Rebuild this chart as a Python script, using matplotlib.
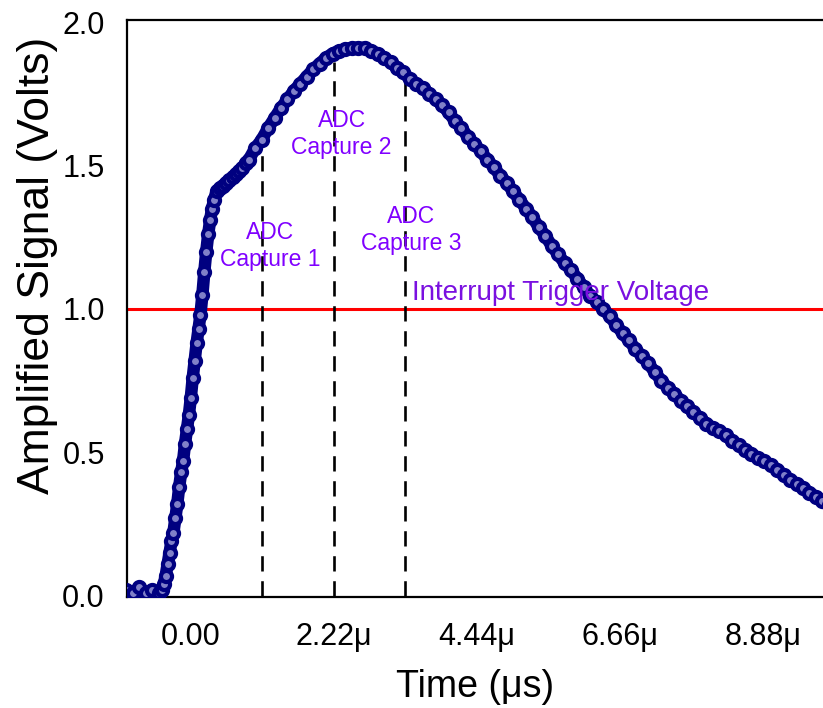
import matplotlib
matplotlib.use("Agg")
import matplotlib.pyplot as plt

plt.rcParams['font.family'] = ['Liberation Sans', 'DejaVu Sans']
plt.rcParams['lines.scale_dashes'] = False

# time in microseconds, signal in volts
time_us = [-1.00, -0.90, -0.80, -0.70, -0.60, -0.50,
           -0.45, -0.42, -0.39, -0.36, -0.33, -0.30, -0.27, -0.24, -0.21,
           -0.18, -0.15, -0.12, -0.09, -0.06, -0.03, 0.00, 0.03, 0.06,
           0.09, 0.12, 0.15, 0.18, 0.21, 0.24, 0.27, 0.30, 0.33, 0.36,
           0.40, 0.45, 0.50, 0.55, 0.60, 0.65, 0.70, 0.75, 0.80, 0.85,
           0.9, 1.0, 1.1, 1.2, 1.3, 1.4, 1.5, 1.6, 1.7, 1.8, 1.9,
           2.0, 2.1, 2.2, 2.3, 2.4, 2.5, 2.6, 2.7, 2.8, 2.9,
           3.0, 3.1, 3.2, 3.3, 3.4, 3.5, 3.6, 3.7, 3.8, 3.9,
           4.0, 4.1, 4.2, 4.3, 4.4, 4.5, 4.6, 4.7, 4.8, 4.9,
           5.0, 5.1, 5.2, 5.3, 5.4, 5.5, 5.6, 5.7, 5.8, 5.9,
           6.0, 6.1, 6.2, 6.3, 6.4, 6.5, 6.6, 6.7, 6.8, 6.9,
           7.0, 7.1, 7.2, 7.3, 7.4, 7.5, 7.6, 7.7, 7.8, 7.9,
           8.0, 8.1, 8.2, 8.3, 8.4, 8.5, 8.6, 8.7, 8.8, 8.9,
           9.0, 9.1, 9.2, 9.3, 9.4, 9.5, 9.6, 9.7, 9.8, 9.9]
signal_v = [0.02, 0.01, 0.03, 0.01, 0.02, 0.01,
            0.02, 0.04, 0.07, 0.11, 0.15, 0.19, 0.22, 0.27, 0.32,
            0.38, 0.43, 0.47, 0.53, 0.58, 0.63, 0.69, 0.76, 0.82,
            0.88, 0.93, 0.98, 1.05, 1.13, 1.20, 1.26, 1.31, 1.35, 1.38,
            1.41, 1.42, 1.43, 1.44, 1.45, 1.46, 1.47, 1.48, 1.49, 1.51,
            1.52, 1.56, 1.59, 1.63, 1.665, 1.70, 1.73, 1.76, 1.785, 1.81, 1.835,
            1.855, 1.875, 1.89, 1.90, 1.905, 1.91, 1.91, 1.91, 1.90, 1.89,
            1.875, 1.86, 1.84, 1.825, 1.80, 1.785, 1.77, 1.75, 1.73, 1.71,
            1.685, 1.655, 1.63, 1.60, 1.575, 1.55, 1.52, 1.495, 1.465, 1.44,
            1.41, 1.38, 1.35, 1.32, 1.285, 1.255, 1.22, 1.19, 1.16, 1.135,
            1.105, 1.075, 1.045, 1.025, 1.00, 0.975, 0.945, 0.915, 0.89, 0.86,
            0.835, 0.81, 0.78, 0.75, 0.725, 0.705, 0.68, 0.66, 0.64, 0.62,
            0.60, 0.585, 0.575, 0.56, 0.54, 0.525, 0.51, 0.495, 0.48, 0.47,
            0.455, 0.44, 0.42, 0.405, 0.39, 0.375, 0.36, 0.345, 0.33, 0.315]

capture_t = [1.10, 2.22, 3.32]
capture_v = [1.57, 1.86, 1.83]
capture_labels = ["ADC\nCapture 1", "ADC\nCapture 2", "ADC\nCapture 3"]
capture_label_xy = [(1.23, 1.22), (2.34, 1.61), (3.42, 1.275)]

trigger_v = 1.0
xticks = [0.0, 2.22, 4.44, 6.66, 8.88]
xtick_labels = ["0.00", "2.22\u03bc", "4.44\u03bc", "6.66\u03bc", "8.88\u03bc"]
yticks = [0.0, 0.5, 1.0, 1.5, 2.0]

fig = plt.figure(figsize=(8.23, 7.08), dpi=100)
ax = fig.add_axes([127 / 823, 111 / 708, 696 / 823, 577 / 708])

# red trigger level
ax.axhline(trigger_v, color='#ff0000', lw=2.2, zorder=2)
ax.text(3.43, 1.03, "Interrupt Trigger Voltage", color='#7a10e0', fontsize=20,
        ha='left', va='baseline', zorder=5)

# dashed ADC capture markers
for t, v in zip(capture_t, capture_v):
    ax.plot([t, t], [0, v], color='black', lw=1.9, dashes=(11, 7), zorder=3)
for lab, (x, y) in zip(capture_labels, capture_label_xy):
    ax.text(x, y, lab, color='#8000ff', fontsize=16.5, ha='center', va='center',
            linespacing=1.2, zorder=5)

# the trace
ax.plot(time_us, signal_v, color='#000080', lw=9, solid_capstyle='round',
        solid_joinstyle='round', zorder=4)
ax.plot(time_us, signal_v, ls='none', marker='o', ms=8, mfc='#8080c8',
        mec='#000080', mew=3, zorder=4)

ax.set_xlim(-0.99, 9.81)
ax.set_ylim(-0.004, 2.007)
ax.set_xticks(xticks)
ax.set_xticklabels(xtick_labels)
ax.set_yticks(yticks)
ax.set_yticklabels([f"{v:.1f}" for v in yticks])
ax.tick_params(axis='both', length=0, labelsize=22)
ax.tick_params(axis='x', pad=18)
ax.tick_params(axis='y', pad=16)

for side in ['left', 'top', 'bottom']:
    ax.spines[side].set_linewidth(1.6)
ax.spines['right'].set_visible(False)

ax.set_xlabel("Time (\u03bcs)", fontsize=27, labelpad=12)
ax.set_ylabel("Amplified Signal (Volts)", fontsize=32, va='center')
ax.yaxis.set_label_coords(-0.129, 0.574)

fig.savefig("out.png", dpi=100)
